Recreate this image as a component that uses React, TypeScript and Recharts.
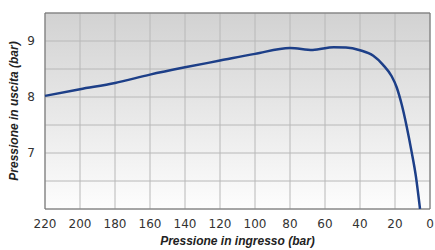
import React from 'react';
import { LineChart, Line, XAxis, YAxis, CartesianGrid, ReferenceArea, Label } from 'recharts';

const inletPressure = [220, 200, 180, 160, 140, 120, 100, 80, 67, 55, 48, 40, 32.4, 26.7, 21.9, 19, 16.2, 13.3, 10.5, 8, 5.7];
const outletPressure = [8.02, 8.14, 8.25, 8.4, 8.53, 8.65, 8.77, 8.875, 8.84, 8.89, 8.885, 8.835, 8.735, 8.57, 8.37, 8.17, 7.87, 7.47, 7.02, 6.57, 6.0];
const xTicks = [220, 200, 180, 160, 140, 120, 100, 80, 60, 40, 20, 0];
const yTicks = [6, 6.5, 7, 7.5, 8, 8.5, 9, 9.5];
const yLabeled = [7, 8, 9];
const xTitle = 'Pressione in ingresso (bar)';
const yTitle = 'Pressione in uscita (bar)';

const data = inletPressure.map((x, i) => ({ x, y: outletPressure[i] }));

const tickStyle = { fontFamily: 'DejaVu Sans', fontSize: 12, fill: '#333' };
const titleStyle = { fontFamily: 'Liberation Sans', fontSize: 12, fontWeight: 700, fontStyle: 'italic', fill: '#222' } as const;

export default function App() {
  return (
    <div style={{ position: 'absolute', left: 0, top: 0 }}>
      <LineChart width={435} height={250} data={data} margin={{ top: 13, right: 5, bottom: 0, left: 0 }}>
        <defs>
          <linearGradient id="bg" x1="0" y1="0" x2="0" y2="1">
            <stop offset="0%" stopColor="#d2d2d2" />
            <stop offset="100%" stopColor="#fdfdfd" />
          </linearGradient>
        </defs>
        <CartesianGrid fill="url(#bg)" stroke="#b8b8b8" strokeWidth={1} fillOpacity={1} />
        <XAxis
          dataKey="x"
          type="number"
          domain={[0, 220]}
          reversed
          ticks={xTicks}
          interval={0}
          tickLine={false}
          axisLine={false}
          height={41}
          tick={tickStyle}
          tickMargin={4}
        >
          <Label
            content={(props: any) => {
              const vb = props.viewBox;
              return (
                <text x={vb.x + vb.width / 2} y={vb.y + 36} textAnchor="middle" style={titleStyle}>
                  {xTitle}
                </text>
              );
            }}
          />
        </XAxis>
        <YAxis
          type="number"
          domain={[6, 9.5]}
          ticks={yTicks}
          interval={0}
          allowDataOverflow
          tickLine={false}
          axisLine={false}
          width={45}
          tick={tickStyle}
          tickMargin={4}
          tickFormatter={(v: number) => (yLabeled.includes(v) ? String(v) : '')}
        >
          <Label
            content={(props: any) => {
              const vb = props.viewBox;
              const cx = 18;
              const cy = vb.y + vb.height / 2;
              return (
                <text x={cx} y={cy} textAnchor="middle" transform={`rotate(-90 ${cx} ${cy})`} style={titleStyle}>
                  {yTitle}
                </text>
              );
            }}
          />
        </YAxis>
        <ReferenceArea x1={0} x2={220} y1={6} y2={9.5} fill="none" stroke="#707070" strokeWidth={1} ifOverflow="visible" />
        <Line
          type="monotone"
          dataKey="y"
          stroke="#1d3f88"
          strokeWidth={2.5}
          dot={false}
          isAnimationActive={false}
        />
      </LineChart>
    </div>
  );
}
